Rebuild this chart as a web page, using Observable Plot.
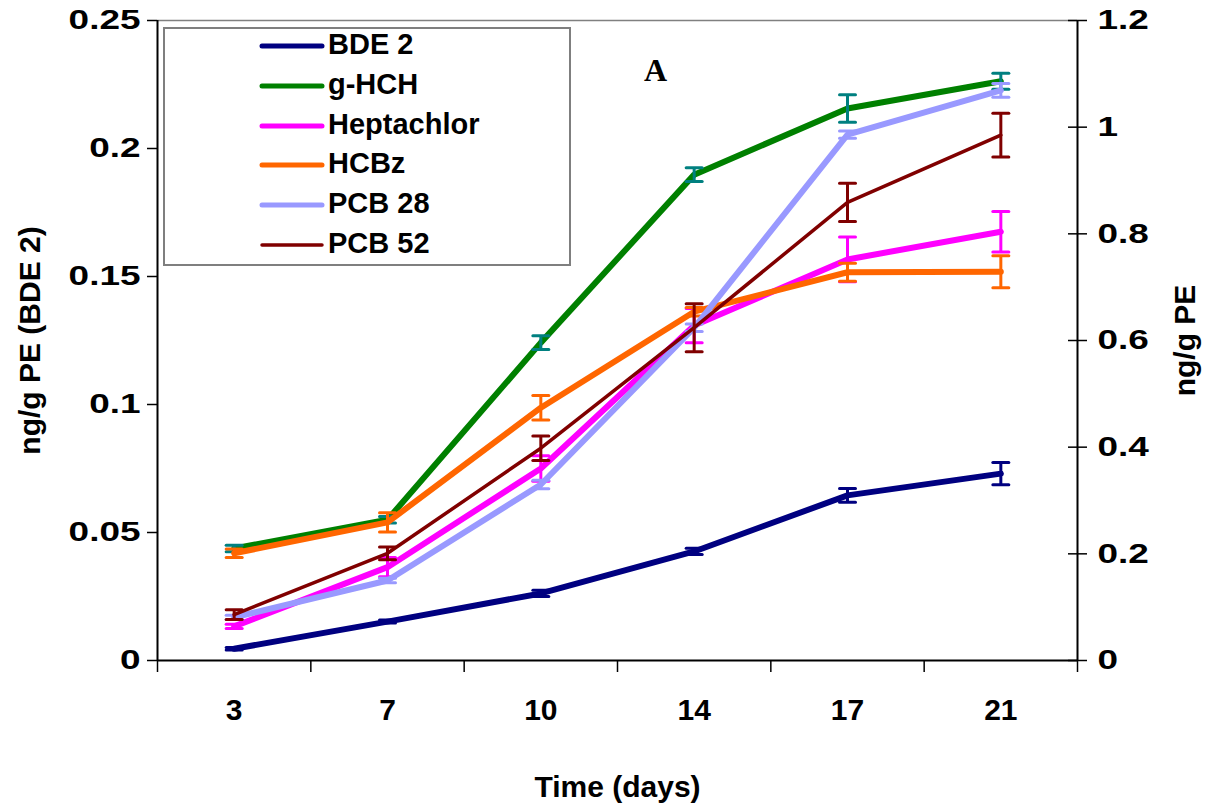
<!DOCTYPE html>
<html>
<head>
<meta charset="utf-8">
<script src="https://cdn.jsdelivr.net/npm/d3@7"></script>
<script src="https://cdn.jsdelivr.net/npm/@observablehq/plot@0.6"></script>
<style>
  html, body { margin: 0; padding: 0; background: #fff; }
  #chart { position: relative; width: 1209px; height: 804px; overflow: hidden;
           font-family: "Liberation Sans", Arial, sans-serif; }
  #chart > svg { position: absolute; left: 0; top: 0; }
  #chart .legend { position: absolute; left: 163px; top: 27px; width: 408px; height: 239px;
            box-sizing: border-box; border: 2px solid #7f7f7f; background: #fff; }
  #chart .legend .row { position: absolute; left: 0; width: 100%; height: 40px; }
  #chart .legend .row svg { position: absolute; left: 94px; top: 15px; }
  #chart .legend .row span { position: absolute; left: 163px; top: 2px; white-space: nowrap;
                      font: bold 29px "Liberation Sans", Arial, sans-serif; color: #000; }
</style>
</head>
<body>
<div id="chart"></div>
<script>
// Sampling days (categorical x axis)
const days = ["3", "7", "10", "14", "17", "21"];

// BDE 2 is read on the left axis (ng/g PE, 0–0.25)
const bde2      = [0.0046, 0.0152, 0.0262, 0.0426, 0.0645, 0.0730];
const bde2Err   = [0.0005, 0.0006, 0.0012, 0.0012, 0.0027, 0.0043];

// The other compounds are read on the right axis (ng/g PE, 0–1.2)
const gHCH      = [0.210, 0.264, 0.596, 0.911, 1.035, 1.086];
const gHCHErr   = [0.006, 0.006, 0.013, 0.013, 0.026, 0.015];
const hepta     = [0.064, 0.175, 0.360, 0.628, 0.752, 0.804];
const heptaErr  = [0.004, 0.018, 0.024, 0.032, 0.042, 0.038];
const hcbz      = [0.201, 0.259, 0.474, 0.654, 0.728, 0.729];
const hcbzErr   = [0.008, 0.018, 0.023, 0.008, 0.017, 0.030];
const pcb28     = [0.081, 0.150, 0.330, 0.624, 0.986, 1.069];
const pcb28Err  = [0.004, 0.004, 0.008, 0.007, 0.007, 0.013];
const pcb52     = [0.086, 0.201, 0.398, 0.624, 0.859, 0.985];
const pcb52Err  = [0.009, 0.012, 0.023, 0.045, 0.036, 0.041];

const seriesNames  = ["BDE 2", "g-HCH", "Heptachlor", "HCBz", "PCB 28", "PCB 52"];
const seriesColors = ["#000080", "#008000", "#ff00ff", "#ff6600", "#9999ff", "#800000"];
const errorColors  = ["#000080", "#008080", "#ff00ff", "#ff6600", "#9999ff", "#800000"];
const lineWidths   = [6, 6, 6, 6, 6, 3.5];

const leftTicks  = [0, 0.05, 0.1, 0.15, 0.2, 0.25];
const rightTicks = [0, 0.2, 0.4, 0.6, 0.8, 1, 1.2];
const leftMax = 0.25, rightMax = 1.2;
const toRight = rightMax / leftMax;   // maps left-axis units onto the shared y scale

const seriesValues = [bde2, gHCH, hepta, hcbz, pcb28, pcb52];
const seriesErrors = [bde2Err, gHCHErr, heptaErr, hcbzErr, pcb28Err, pcb52Err];
const seriesFactor = [toRight, 1, 1, 1, 1, 1];

const series = seriesNames.map((name, s) => ({
  name,
  color: seriesColors[s],
  errColor: errorColors[s],
  width: lineWidths[s],
  rows: seriesValues[s].map((v, i) => ({
    i, v: v * seriesFactor[s], e: seriesErrors[s][i] * seriesFactor[s]
  }))
}));

// horizontal cap drawn at the ends of each error bar
const capSymbol = {
  draw(ctx, size) {
    const r = Math.sqrt(size / Math.PI);
    ctx.moveTo(-r, 0);
    ctx.lineTo(r, 0);
  }
};

const boundaries = d3.range(days.length + 1).map(k => k - 0.5);
const fmt = (v, digits) => String(+v.toFixed(digits));

const seriesMarks = series.flatMap(s => [
  Plot.line(s.rows, {x: "i", y: "v", stroke: s.color, strokeWidth: s.width,
    strokeLinejoin: "round", strokeLinecap: "round"}),
  Plot.ruleX(s.rows, {x: "i", y1: d => d.v - d.e, y2: d => d.v + d.e,
    stroke: s.errColor, strokeWidth: 3}),
  Plot.dot(s.rows, {x: "i", y: d => d.v + d.e, r: 8, symbol: capSymbol,
    fill: "none", stroke: s.errColor, strokeWidth: 3, strokeLinecap: "round"}),
  Plot.dot(s.rows, {x: "i", y: d => d.v - d.e, r: 8, symbol: capSymbol,
    fill: "none", stroke: s.errColor, strokeWidth: 3, strokeLinecap: "round"})
]);

const chart = Plot.plot({
  width: 1209,
  height: 804,
  marginLeft: 157,
  marginRight: 132,
  marginTop: 20,
  marginBottom: 144,
  style: {
    fontFamily: '"Liberation Sans", Arial, sans-serif',
    fontSize: "28px",
    fontWeight: "bold",
    color: "#000",
    background: "#fff",
    overflow: "hidden"
  },
  x: {domain: [-0.5, days.length - 0.5], label: null},
  y: {domain: [0, rightMax], label: null},
  marks: [
    // plot area border and axis lines
    Plot.ruleY([rightMax], {stroke: "#808080", strokeWidth: 1.5}),
    Plot.ruleX([-0.5], {stroke: "#000", strokeWidth: 2}),
    Plot.ruleX([days.length - 0.5], {stroke: "#000", strokeWidth: 2}),
    Plot.ruleY([0], {stroke: "#000", strokeWidth: 2}),

    // x axis: category boundary ticks, then day labels
    Plot.axisX({ticks: boundaries, tickSize: 12, strokeWidth: 1.5, tickFormat: () => "", label: null}),
    Plot.axisX({ticks: d3.range(days.length), tickSize: 0, tickPadding: 38, fontSize: 30,
      tickFormat: i => days[i], label: null}),

    // left axis (BDE 2)
    Plot.axisY({anchor: "left", ticks: leftTicks.map(v => v * toRight), tickSize: 10,
      tickPadding: 7, strokeWidth: 1.5, tickFormat: v => fmt(v / toRight, 2), label: null}),

    // right axis (other compounds)
    Plot.axisY({anchor: "right", ticks: rightTicks, tickSize: 19, dx: -10, tickPadding: 11,
      strokeWidth: 1.5, tickFormat: v => fmt(v, 1), label: null}),

    // axis titles and panel letter
    Plot.text(["ng/g PE (BDE 2)"], {frameAnchor: "left", dx: -127, rotate: -90,
      textAnchor: "middle", lineAnchor: "middle", fontSize: 30, fontWeight: "bold"}),
    Plot.text(["ng/g PE"], {frameAnchor: "right", dx: 108, rotate: -90,
      textAnchor: "middle", lineAnchor: "middle", fontSize: 30, fontWeight: "bold"}),
    Plot.text(["Time (days)"], {frameAnchor: "bottom", dy: 127, lineAnchor: "middle",
      fontSize: 30, fontWeight: "bold"}),
    Plot.text(["A"], {frameAnchor: "top", dx: 38, dy: 50, lineAnchor: "middle",
      fontFamily: '"Liberation Serif", "Times New Roman", serif', fontSize: 32, fontWeight: "bold"}),

    ...seriesMarks
  ]
});

// y tick labels are set wide, as in the printed figure
chart.querySelectorAll('g[aria-label="y-axis tick label"] text').forEach(t => {
  const tr = t.getAttribute("transform");
  if (tr) {
    t.setAttribute("transform", tr + " scale(1.32,1)");
  } else {
    const x = +t.getAttribute("x") || 0, y = +t.getAttribute("y") || 0;
    t.setAttribute("transform", `translate(${x},${y}) scale(1.32,1) translate(${-x},${-y})`);
  }
});

const root = document.getElementById("chart");
root.appendChild(chart);

// legend box inside the plot area
const legend = document.createElement("div");
legend.className = "legend";
series.forEach((s, k) => {
  const row = document.createElement("div");
  row.className = "row";
  row.style.top = (-3 + k * 39.8) + "px";
  const sw = d3.create("svg").attr("width", 66).attr("height", 10);
  sw.append("line").attr("x1", 3).attr("x2", 63).attr("y1", 5).attr("y2", 5)
    .attr("stroke", s.color).attr("stroke-width", s.width === 6 ? 5 : 3.5)
    .attr("stroke-linecap", "round");
  row.appendChild(sw.node());
  const label = document.createElement("span");
  label.textContent = s.name;
  row.appendChild(label);
  legend.appendChild(row);
});
root.appendChild(legend);
</script>
</body>
</html>
